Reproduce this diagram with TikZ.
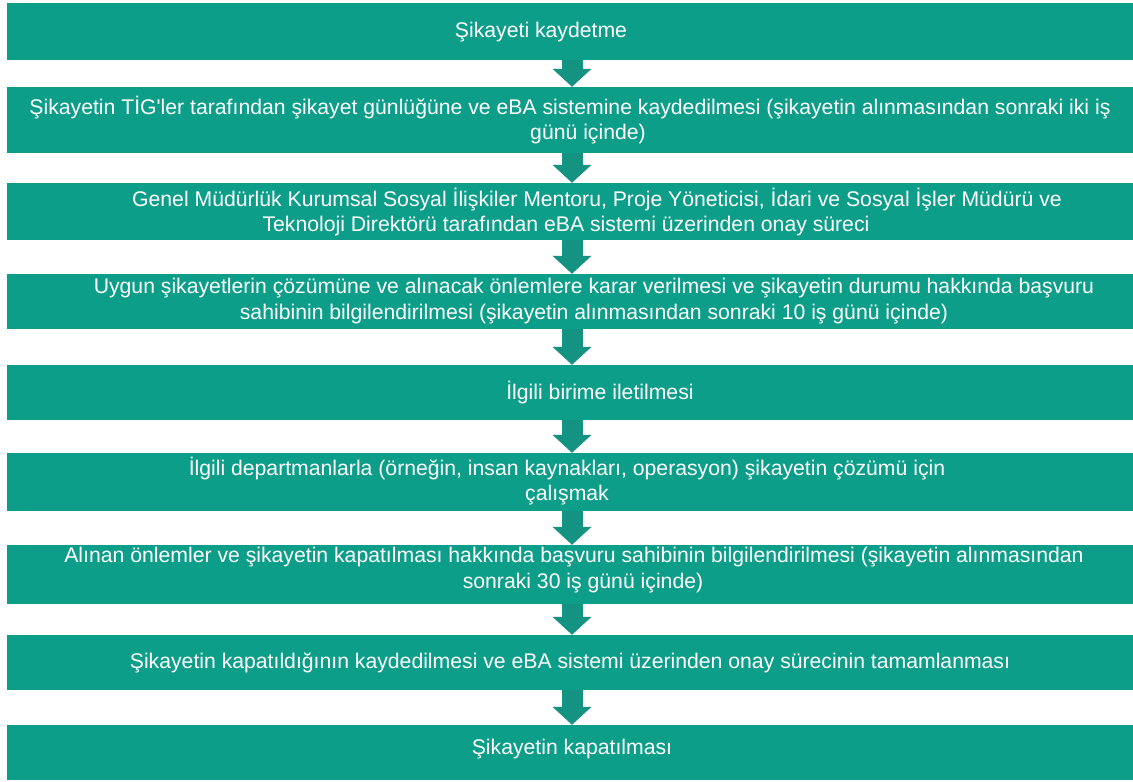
\documentclass[tikz,border=0pt]{standalone}
\usepackage{fontspec}
\setmainfont{Liberation Sans}
\usetikzlibrary{arrows.meta}
\definecolor{boxteal}{RGB}{13,158,138}
\definecolor{arrteal}{RGB}{20,146,130}
\tikzset{
  box/.style={rectangle, fill=boxteal, draw=none, minimum width=1126pt, inner sep=0pt},
  txt/.style={text=white, align=center, inner sep=0pt, font=\fontsize{21.2}{25.5}\selectfont},
  arr/.style={draw=arrteal, line width=21pt, -{Triangle[width=38pt,length=18pt]}}
}
\begin{document}
\begin{tikzpicture}[x=1pt,y=-1pt]
\useasboundingbox (0,0) rectangle (1133,782);
\node[box, minimum height=57pt] (b1) at (570,31.5) {};
\node[box, minimum height=66pt] (b2) at (570,120) {};
\node[box, minimum height=57pt] (b3) at (570,211.5) {};
\node[box, minimum height=55pt] (b4) at (570,301.5) {};
\node[box, minimum height=55pt] (b5) at (570,392.5) {};
\node[box, minimum height=58pt] (b6) at (570,482) {};
\node[box, minimum height=59pt] (b7) at (570,574.5) {};
\node[box, minimum height=55pt] (b8) at (570,662.5) {};
\node[box, minimum height=55pt] (b9) at (570,752.5) {};
\foreach \a/\b in {b1/b2,b2/b3,b3/b4,b4/b5,b5/b6,b6/b7,b7/b8,b8/b9}
  \draw[arr] ([xshift=2pt]\a.south) -- ([xshift=2pt]\b.north);
\node[txt] (t1) at (541,32) {Şikayeti kaydetme};
\node[txt] (t2) at (570,120) {Şikayetin TİG\textquotesingle ler tarafından şikayet günlüğüne ve eBA sistemine kaydedilmesi (şikayetin alınmasından sonraki iki iş\\\hspace*{36pt}günü içinde)};
\node[txt] (t3) at (597,212) {Genel Müdürlük Kurumsal Sosyal İlişkiler Mentoru, Proje Yöneticisi, İdari ve Sosyal İşler Müdürü ve\\\hspace*{-62pt}Teknoloji Direktörü tarafından eBA sistemi üzerinden onay süreci};
\node[txt] (t4) at (594,301) {Uygun şikayetlerin çözümüne ve alınacak önlemlere karar verilmesi ve şikayetin durumu hakkında başvuru\\sahibinin bilgilendirilmesi (şikayetin alınmasından sonraki 10 iş günü içinde)};
\node[txt] (t5) at (600,392) {İlgili birime iletilmesi};
\node[txt] (t6) at (567,481) {İlgili departmanlarla (örneğin, insan kaynakları, operasyon) şikayetin çözümü için\\çalışmak};
\node[txt] (t7) at (574,570) {Alınan önlemler ve şikayetin kapatılması hakkında başvuru sahibinin bilgilendirilmesi (şikayetin alınmasından\\\hspace*{18pt}sonraki 30 iş günü içinde)};
\node[txt] (t8) at (570,663) {Şikayetin kapatıldığının kaydedilmesi ve eBA sistemi üzerinden onay sürecinin tamamlanması};
\node[txt] (t9) at (572,749) {Şikayetin kapatılması};
\end{tikzpicture}
\end{document}
